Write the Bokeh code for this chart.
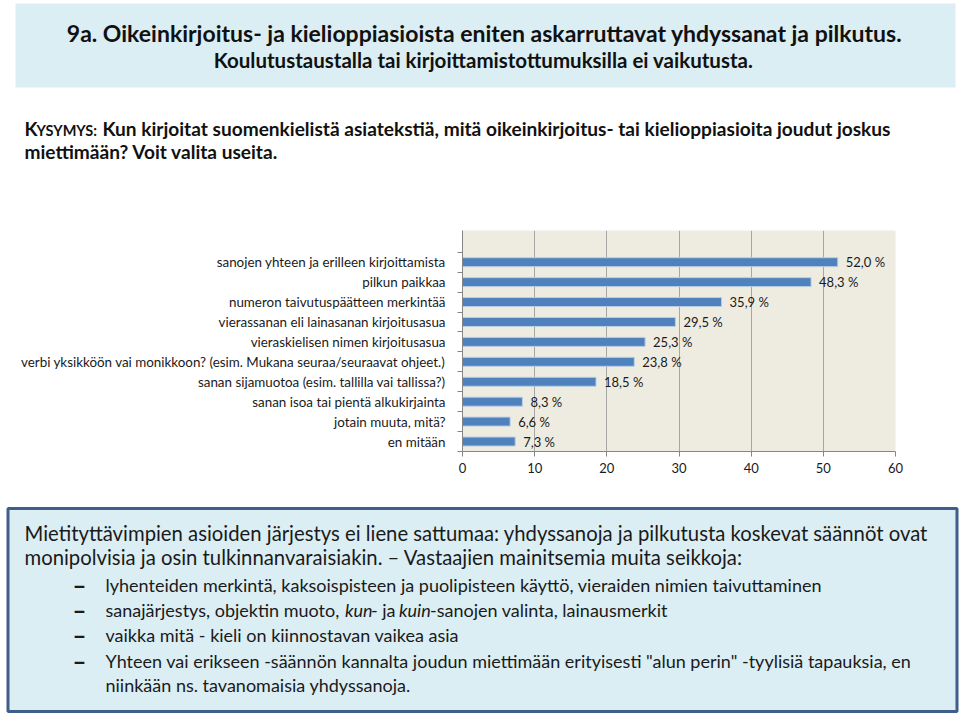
from bokeh.plotting import figure
from bokeh.models import Range1d, FixedTicker, ColumnDataSource
from bokeh.core.properties import value
from bokeh.embed import file_html
from bokeh.resources import INLINE

# ---------------- data ----------------
categories = [
    "sanojen yhteen ja erilleen kirjoittamista",
    "pilkun paikkaa",
    "numeron taivutuspäätteen merkintää",
    "vierassanan eli lainasanan kirjoitusasua",
    "vieraskielisen nimen kirjoitusasua",
    "verbi yksikköön vai monikkoon? (esim. Mukana seuraa/seuraavat ohjeet.)",
    "sanan sijamuotoa (esim. tallilla vai tallissa?)",
    "sanan isoa tai pientä alkukirjainta",
    "jotain muuta, mitä?",
    "en mitään",
]
values = [52.0, 48.3, 35.9, 29.5, 25.3, 23.8, 18.5, 8.3, 6.6, 7.3]
x_ticks = [0, 10, 20, 30, 40, 50, 60]

title_1 = "9a. Oikeinkirjoitus- ja kielioppiasioista eniten askarruttavat yhdyssanat ja pilkutus."
title_2 = "Koulutustaustalla tai kirjoittamistottumuksilla ei vaikutusta."
question_head_big = "K"
question_head_small = "YSYMYS:"
question_1 = "Kun kirjoitat suomenkielistä asiatekstiä, mitä oikeinkirjoitus- tai kielioppiasioita joudut joskus"
question_2 = "miettimään? Voit valita useita."
note_1 = "Mietityttävimpien asioiden järjestys ei liene sattumaa: yhdyssanoja ja pilkutusta koskevat säännöt ovat"
note_2 = "monipolvisia ja osin tulkinnanvaraisiakin. – Vastaajien mainitsemia muita seikkoja:"
bullet_1 = "lyhenteiden merkintä, kaksoispisteen ja puolipisteen käyttö, vieraiden nimien taivuttaminen"
bullet_2_parts = ["sanajärjestys, objektin muoto, ", "kun", "- ja ", "kuin", "-sanojen valinta, lainausmerkit"]
bullet_3 = "vaikka mitä - kieli on kiinnostavan vaikea asia"
bullet_4a = "Yhteen vai erikseen -säännön kannalta joudun miettimään erityisesti \"alun perin\" -tyylisiä tapauksia, en"
bullet_4b = "niinkään ns. tavanomaisia yhdyssanoja."

FONT = value("Lato")
TXT = "#1a1a1a"
DARK = "#111111"


def canvas(top, bottom):
    f = figure(width=960, height=bottom - top,
               x_range=Range1d(0, 960), y_range=Range1d(bottom, top),
               output_backend="svg", toolbar_location=None,
               x_axis_location=None, y_axis_location=None, min_border=0)
    f.grid.visible = False
    f.outline_line_color = None
    f.background_fill_color = "white"
    f.border_fill_color = "white"
    return f


# ---------------- header ----------------
h = canvas(0, 200)
h.quad(left=15, right=955, top=3, bottom=87, fill_color="#DBEEF3", line_color=None)
h.text(x=[484], y=[32], text=[title_1], text_font=FONT, text_font_size="23px",
       text_font_style="bold", text_align="center", text_baseline="middle", text_color=DARK)
h.text(x=[483], y=[59], text=[title_2], text_font=FONT, text_font_size="20.5px",
       text_font_style="bold", text_align="center", text_baseline="middle", text_color=DARK)
h.text(x=[24], y=[128], text=[question_head_big], text_font=FONT, text_font_size="19px",
       text_font_style="bold", text_align="left", text_baseline="middle", text_color=DARK)
h.text(x=[36], y=[129.5], text=[question_head_small], text_font=FONT, text_font_size="14.5px",
       text_font_style="bold", text_align="left", text_baseline="middle", text_color=DARK)
h.text(x=[102], y=[128], text=[question_1], text_font=FONT, text_font_size="19.1px",
       text_font_style="bold", text_align="left", text_baseline="middle", text_color=DARK)
h.text(x=[24], y=[151], text=[question_2], text_font=FONT, text_font_size="19.1px",
       text_font_style="bold", text_align="left", text_baseline="middle", text_color=DARK)

# ---------------- chart ----------------
n = len(categories)
positions = [n - 1 - i for i in range(n)]
labels = [f"{v:.1f} %".replace(".", ",") for v in values]
src = ColumnDataSource(dict(y=positions, v=values, lab=labels))

p = figure(width=960, height=296, x_range=Range1d(0, 60), y_range=Range1d(-0.5, 10.59),
           output_backend="svg", toolbar_location=None,
           min_border_left=462, min_border_right=65, min_border_top=30, min_border_bottom=45)
p.background_fill_color = "#EEECE1"
p.border_fill_color = "white"
p.outline_line_color = None

p.hbar(y="y", right="v", left=0, height=0.45, source=src,
       fill_color="#4F81BD", line_color="#B9CDE5", line_width=1)
p.text(x="v", y="y", text="lab", source=src, x_offset=8, text_font=FONT,
       text_font_size="13px", text_baseline="middle", text_align="left", text_color=TXT)

p.xaxis.ticker = FixedTicker(ticks=x_ticks)
p.xgrid.ticker = FixedTicker(ticks=x_ticks)
p.xgrid.grid_line_color = "#A6A6A6"
p.ygrid.grid_line_color = None
p.xaxis.axis_line_color = "#868686"
p.xaxis.major_tick_line_color = "#868686"
p.xaxis.major_tick_out = 5
p.xaxis.major_tick_in = 0
p.xaxis.minor_tick_line_color = None
p.xaxis.major_label_standoff = 6
p.xaxis.major_label_text_font = "Lato"
p.xaxis.major_label_text_font_size = "13px"
p.xaxis.major_label_text_color = TXT

p.yaxis.ticker = FixedTicker(ticks=positions, minor_ticks=[q - 0.5 for q in range(n + 1)])
p.yaxis.major_label_overrides = {pos: cat for pos, cat in zip(positions, categories)}
p.yaxis.axis_line_color = "#868686"
p.yaxis.major_tick_out = 0
p.yaxis.major_tick_in = 0
p.yaxis.minor_tick_out = 5
p.yaxis.minor_tick_in = 0
p.yaxis.minor_tick_line_color = "#868686"
p.yaxis.major_label_standoff = 12
p.yaxis.major_label_text_font = "Lato"
p.yaxis.major_label_text_font_size = "13.4px"
p.yaxis.major_label_text_color = TXT

# ---------------- note box ----------------
nb = canvas(496, 716)
nb.quad(left=7.5, right=956.5, top=508, bottom=711, fill_color="#DBEEF4",
        line_color="#3F5F8A", line_width=3)
nb.text(x=[24], y=[532], text=[note_1], text_font=FONT, text_font_size="20.3px",
        text_baseline="middle", text_color=TXT)
nb.text(x=[24], y=[556], text=[note_2], text_font=FONT, text_font_size="20.3px",
        text_baseline="middle", text_color=TXT)
bullet_y = [584, 609, 634, 660]
nb.text(x=[72] * 4, y=bullet_y, text=["–"] * 4, text_font=FONT, text_font_size="24px",
        text_font_style="bold", text_baseline="middle", text_color=TXT)
nb.text(x=[105, 105, 105], y=[584, 634, 660], text=[bullet_1, bullet_3, bullet_4a],
        text_font=FONT, text_font_size="18px", text_baseline="middle", text_color=TXT)
nb.text(x=[105], y=[684], text=[bullet_4b], text_font=FONT, text_font_size="18px",
        text_baseline="middle", text_color=TXT)
part_x = [105, 344.5, 370.5, 398.5, 429.5]
part_style = ["normal", "italic", "normal", "italic", "normal"]
for px, pt, ps in zip(part_x, bullet_2_parts, part_style):
    nb.text(x=[px], y=[609], text=[pt], text_font=FONT, text_font_size="18px",
            text_font_style=ps, text_baseline="middle", text_color=TXT)

open("out.html", "w").write(file_html([h, p, nb], INLINE))
